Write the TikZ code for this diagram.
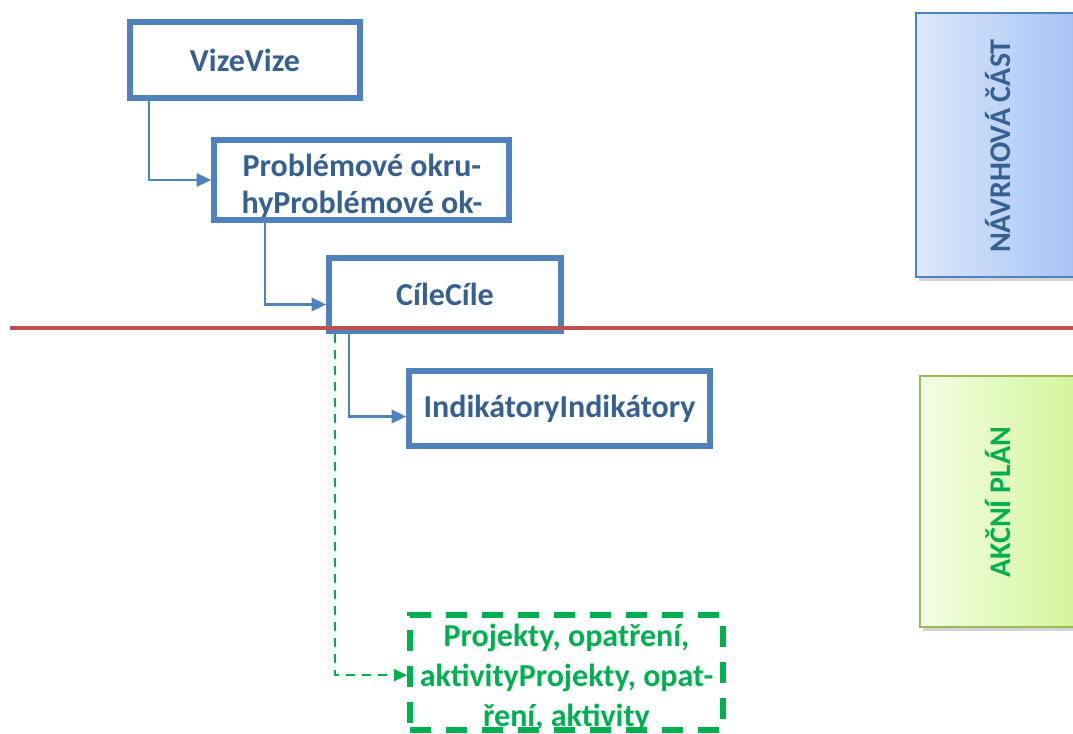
\documentclass[tikz,border=0pt]{standalone}
\usepackage{fontspec}
\setmainfont{Carlito}
\usetikzlibrary{arrows.meta,shadows,fit}
\definecolor{boxblue}{HTML}{4F81BD}
\definecolor{txtblue}{HTML}{376092}
\definecolor{grn}{HTML}{00B050}
\definecolor{redl}{HTML}{C0504D}
\definecolor{bluel}{HTML}{DDE8FA}
\definecolor{bluer}{HTML}{A4C2F4}
\definecolor{greenl}{HTML}{F3FDE6}
\definecolor{greenr}{HTML}{D3F598}
\definecolor{greenb}{HTML}{9BBB59}
\begin{document}
\begin{tikzpicture}[x=0.75pt,y=-0.75pt,
  bluebox/.style={draw=boxblue,line width=4.2pt,inner sep=0pt,fill=white},
  greenbox/.style={draw=grn,line width=4.2pt,inner sep=0pt,dash pattern=on 16pt off 11pt},
  boxtext/.style={font=\fontsize{24}{28}\selectfont\bfseries,text=txtblue,align=center,inner sep=0pt},
  greentext/.style={font=\fontsize{24}{30}\selectfont\bfseries,text=grn,align=center,inner sep=0pt},
  conn/.style={draw=boxblue,line width=1.8pt,-{Triangle[length=11pt,width=10pt]}},
  gconn/.style={draw=grn,line width=1.6pt,dash pattern=on 7pt off 5pt,-{Triangle[length=10pt,width=9pt]}},
  sidebox/.style={inner sep=0pt,drop shadow={opacity=0.35,shadow xshift=2pt,shadow yshift=-3pt}},
  sidetext/.style={font=\fontsize{22.5}{26}\selectfont\bfseries,rotate=90}
]
\useasboundingbox (0,0) rectangle (1073,734);

% side panels
\node[sidebox,fit={(916,13) (1080,277)},draw=boxblue,line width=1pt,left color=bluel,right color=bluer] (navrh) {};
\node[sidetext,text=txtblue] (navrhtext) at (998,146) {NÁVRHOVÁ ČÁST};
\node[sidebox,fit={(920,376) (1080,627)},draw=greenb,line width=1.2pt,left color=greenl,right color=greenr] (akcni) {};
\node[sidetext,text=grn] (akcnitext) at (998,502) {AKČNÍ PLÁN};

% main boxes
\node[bluebox,fit={(130,22) (360,98)}] (vize) {};
\node[boxtext] (vizetext) at (vize.center) {VizeVize};

\node[bluebox,fit={(214,140) (509,220)}] (probl) {};
\begin{scope}
  \clip (214,140) rectangle (509,217);
  \node[boxtext,anchor=base] (probltext) at (362,214) {Problémové okru-\\hyProblémové ok-};
\end{scope}

\node[bluebox,fit={(329,258) (561,331)}] (cile) {};
\node[boxtext] (ciletext) at (cile.center) {CíleCíle};

\node[bluebox,fit={(409,371) (710,446)}] (indik) {};
\node[boxtext] (indiktext) at (indik.center) {IndikátoryIndikátory};

\begin{scope}
  \clip (410,615) rectangle (723,727);
  \node[greentext,anchor=base] (projtext) at (566.5,726) {Projekty, opatření,\\aktivityProjekty, opat-\\ření, aktivity};
\end{scope}
\node[greenbox,fit={(410,615) (723,730)}] (proj) {};

% connectors
\draw[conn] ([xshift=16.5pt]vize.south west) |- (probl.west);
\draw[conn] ([xshift=40.5pt]probl.south west) |- ([yshift=-7.5pt]cile.west);
\draw[conn] ([xshift=17pt]cile.south west) |- ([yshift=-6pt]indik.west);
\draw[gconn] ([xshift=6.8pt]cile.south west) |- ([yshift=-2pt]proj.west);

% separator
\coordinate (sepL) at (10,328);
\coordinate (sepR) at (1073,328);
\draw[redl,line width=2.4pt] (sepL) -- (sepR);
\end{tikzpicture}
\end{document}
